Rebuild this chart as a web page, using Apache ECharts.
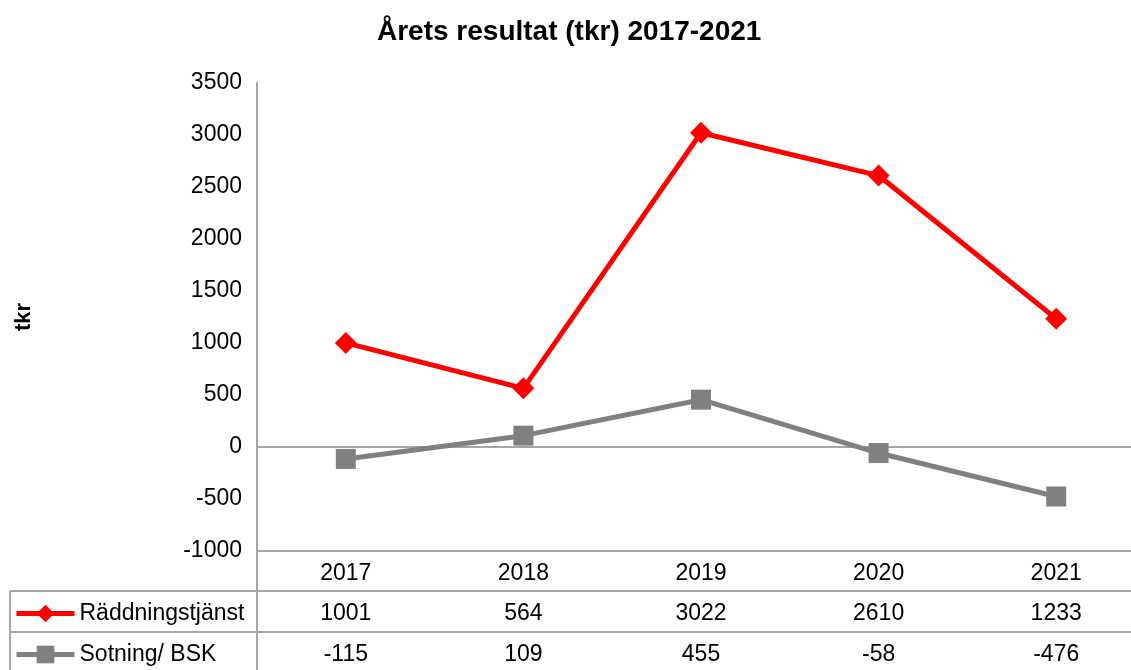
<!DOCTYPE html>
<html>
<head>
<meta charset="utf-8">
<script src="https://cdn.jsdelivr.net/npm/echarts@6/dist/echarts.min.js"></script>
<style>
	html, body { margin: 0; padding: 0; background: #fff; overflow: hidden; }
	/* plot area runs past the right edge of the window, like the reference */
	#chart { width: 1145px; height: 670px; }
</style>
</head>
<body>
<div id="chart"></div>
<script>
// data
const years = ["2017", "2018", "2019", "2020", "2021"];
const raddning = [1001, 564, 3022, 2610, 1233];
const sotning = [-115, 109, 455, -58, -476];
const yTicks = {min: -1000, max: 3500, interval: 500};

const font = "'Liberation Sans', Arial, sans-serif";
const gray = "#a6a6a6";

const chart = echarts.init(document.getElementById("chart"));

function tableAxis(offset, values) {
	return {
		type: "category",
		data: years,
		position: "bottom",
		offset: offset,
		axisLine: {onZero: false, lineStyle: {color: gray, width: 2}},
		axisTick: {show: false},
		axisLabel: {
			fontSize: 23, fontFamily: font, color: "#000", margin: 11,
			formatter: (v, i) => values ? String(values[i]) : v
		}
	};
}

function legendRow(name, top) {
	return {
		data: [name], left: 14, top: top, padding: 0, itemWidth: 58, itemHeight: 22,
		lineStyle: {width: 5},
		textStyle: {fontSize: 23, fontFamily: font, color: "#000"}
	};
}

const option = {
	animation: false,
	title: {
		text: "Årets resultat (tkr) 2017-2021",
		left: 372,
		top: 13,
		textStyle: {fontSize: 28, fontWeight: "bold", fontFamily: font, color: "#000"}
	},
	grid: {left: 257, top: 83, right: 0, height: 468},
	legend: [
		legendRow("Räddningstjänst", 602),
		legendRow("Sotning/ BSK", 643)
	],
	xAxis: [
		{
			type: "category",
			data: years,
			position: "bottom",
			axisLine: {onZero: true, lineStyle: {color: gray, width: 2}},
			axisTick: {show: false},
			axisLabel: {show: false}
		},
		tableAxis(0, null),
		tableAxis(40, raddning),
		tableAxis(81, sotning)
	],
	yAxis: {
		type: "value",
		min: yTicks.min,
		max: yTicks.max,
		interval: yTicks.interval,
		name: "tkr",
		nameLocation: "middle",
		nameGap: 222,
		nameTextStyle: {fontSize: 22, fontWeight: "bold", fontFamily: font, color: "#000"},
		axisLine: {show: true, lineStyle: {color: gray, width: 2}},
		axisTick: {show: false},
		splitLine: {show: false},
		axisLabel: {fontSize: 23, fontFamily: font, color: "#000", margin: 15, formatter: v => String(v)}
	},
	series: [
		{
			name: "Räddningstjänst",
			type: "line",
			data: raddning,
			symbol: "diamond",
			symbolSize: 22,
			lineStyle: {color: "#ff0000", width: 5},
			itemStyle: {color: "#ff0000"}
		},
		{
			name: "Sotning/ BSK",
			type: "line",
			data: sotning,
			symbol: "rect",
			symbolSize: 20,
			lineStyle: {color: "#808080", width: 5},
			itemStyle: {color: "#808080"}
		}
	],
	graphic: [
		{type: "line", shape: {x1: 257, y1: 551, x2: 257, y2: 670}, style: {stroke: gray, lineWidth: 2}},
		{type: "line", shape: {x1: 10, y1: 591, x2: 10, y2: 670}, style: {stroke: gray, lineWidth: 2}},
		{type: "line", shape: {x1: 10, y1: 591, x2: 257, y2: 591}, style: {stroke: gray, lineWidth: 2}},
		{type: "line", shape: {x1: 10, y1: 632, x2: 257, y2: 632}, style: {stroke: gray, lineWidth: 2}}
	]
};

chart.setOption(option);
</script>
</body>
</html>
